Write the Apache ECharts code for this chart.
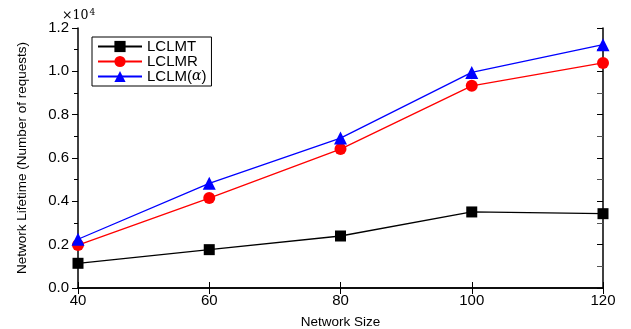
<!DOCTYPE html>
<html><head><meta charset="utf-8">
<script src="https://cdn.jsdelivr.net/npm/echarts@6/dist/echarts.min.js"></script>
<style>html,body{margin:0;padding:0;background:#fff}#c{width:631px;height:329px}</style>
</head><body><div id="c"></div>
<script>
const categories = [40, 60, 80, 100, 120];
const lclmt = [1140, 1770, 2400, 3510, 3430];
const lclmr = [1980, 4150, 6410, 9330, 10390];
const lclmAlpha = [2250, 4830, 6920, 9950, 11230];
const yTicks = ['0.0','0.2','0.4','0.6','0.8','1.0','1.2'];
const seriesNames = ['LCLMT','LCLMR','LCLM(α)'];

const chart = echarts.init(document.getElementById('c'));
const font = 'Liberation Sans, Arial, sans-serif';
function pts(arr){ return categories.map((x,i)=>[x,arr[i]]); }
chart.setOption({
  animation: false,
  backgroundColor: '#fff',
  grid: {left: 78, right: 28, top: 28, bottom: 41, containLabel: false, outerBoundsMode: 'none'},
  xAxis: [{
    type: 'value', min: 40, max: 120, interval: 20,
    name: 'Network Size', nameLocation: 'middle', nameGap: 27,
    nameTextStyle: {fontFamily: font, fontSize: 13.5, color: '#000'},
    axisLine: {lineStyle: {color: '#000', width: 1.5}},
    axisTick: {inside: true, length: 6, lineStyle: {color: '#000'}},
    axisLabel: {fontFamily: font, fontSize: 15, color: '#000', margin: 5},
    splitLine: {show: false}
  },{
    type: 'value', position: 'top', min: 40, max: 120, interval: 20,
    axisLine: {lineStyle: {color: '#000', width: 1.5}},
    axisTick: {inside: true, length: 6, lineStyle: {color: '#000'}},
    axisLabel: {show: false}, splitLine: {show: false}
  }],
  yAxis: [{
    type: 'value', min: 0, max: 12000, interval: 2000,
    name: 'Network Lifetime (Number of requests)', nameLocation: 'middle', nameGap: 49,
    nameTextStyle: {fontFamily: 'Liberation Sans Narrow, Arial Narrow, sans-serif', fontSize: 13.5, color: '#000'},
    axisLine: {show: true, lineStyle: {color: '#000', width: 1.5}},
    axisTick: {inside: false, length: 6, lineStyle: {color: '#000'}},
    minorTick: {show: true, splitNumber: 2, length: 4, lineStyle: {color: '#000'}},
    axisLabel: {fontFamily: font, fontSize: 15, color: '#000', margin: 9,
      formatter: v => yTicks[Math.round(v/2000)]},
    splitLine: {show: false}
  },{
    type: 'value', position: 'right', min: 0, max: 12000, interval: 2000,
    axisLine: {show: true, lineStyle: {color: '#000', width: 1.5}},
    axisTick: {inside: true, length: 6, lineStyle: {color: '#000'}},
    minorTick: {show: true, splitNumber: 2, length: 6, lineStyle: {color: '#555'}},
    axisLabel: {show: false}, splitLine: {show: false}
  }],
  legend: {
    orient: 'vertical', left: 92, top: 37, itemGap: 0,
    itemWidth: 44, itemHeight: 14,
    borderColor: '#000', borderWidth: 1, borderRadius: 0, padding: [2, 5, 2, 5],
    textStyle: {fontFamily: font, fontSize: 15, color: '#000', lineHeight: 15,
      rich: {g: {fontFamily: 'DejaVu Serif, serif', fontStyle: 'italic', fontSize: 14, color: '#000', lineHeight: 15},
             n: {fontFamily: font, fontSize: 15, color: '#000', lineHeight: 15}}},
    formatter: n => n === 'LCLM(α)' ? '{n|LCLM(}{g|α}{n|)}' : n,
    data: seriesNames
  },
  graphic: [{
    type: 'text', left: 62, top: 8,
    style: {rich: {a: {fontFamily: 'DejaVu Serif, serif', fontSize: 12.5, fill: '#000'},
                   s: {fontFamily: 'DejaVu Serif, serif', fontSize: 9, fill: '#000', verticalAlign: 'top', padding:[0,0,7,1]}},
            text: '{a|×10}{s|4}'}
  }],
  series: [
    {name: seriesNames[0], type: 'line', data: pts(lclmt), symbol: 'rect', symbolSize: 11,
     itemStyle: {color: '#000'}, lineStyle: {color: '#000', width: 1.3}},
    {name: seriesNames[1], type: 'line', data: pts(lclmr), symbol: 'circle', symbolSize: 12,
     itemStyle: {color: '#f00'}, lineStyle: {color: '#f00', width: 1.3}},
    {name: seriesNames[2], type: 'line', data: pts(lclmAlpha), symbol: 'triangle', symbolSize: 13,
     itemStyle: {color: '#00f'}, lineStyle: {color: '#00f', width: 1.3}}
  ]
});
</script></body></html>
